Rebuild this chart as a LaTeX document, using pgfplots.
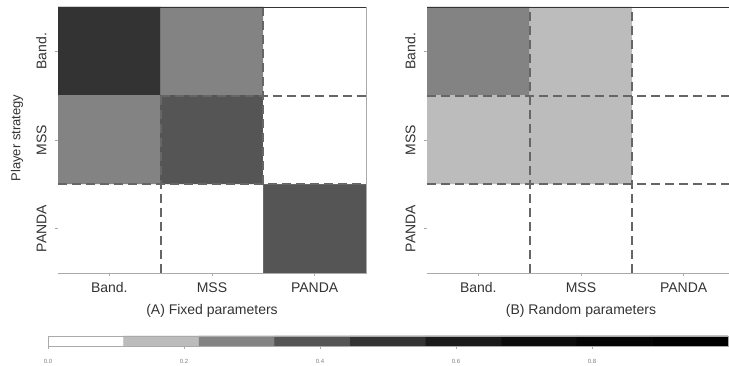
\documentclass[border=0pt]{standalone}
\usepackage{fontspec}
\setmainfont{Liberation Sans}
\usepackage{pgfplots}
\pgfplotsset{compat=1.18}
\definecolor{txt}{HTML}{333333}
\definecolor{frame}{HTML}{AAAAAA}
\definecolor{dashcol}{HTML}{666666}
\pgfplotsset{
  colormap={gray9}{rgb255=(255,255,255) rgb255=(188,188,188) rgb255=(131,131,131) rgb255=(85,85,85) rgb255=(51,51,51) rgb255=(26,26,26) rgb255=(12,12,12) rgb255=(4,4,4) rgb255=(0,0,0)},
  heat/.style={
    scale only axis, width=308pt, height=266pt,
    xmin=0.5, xmax=3.5, ymin=0.5, ymax=3.5,
    colormap name=gray9, colormap access=piecewise constant,
    point meta min=0, point meta max=1,
    xtick={1,2,3}, xticklabels={Band.,MSS,PANDA},
    ytick={1,2,3}, yticklabels={PANDA,MSS,Band.},
    xtick pos=left, ytick pos=left, tick align=outside,
    major tick length=3pt,
    tick style={color=frame, line width=0.5pt},
    axis line style={draw=frame, line width=0.6pt},
    ticklabel style={font=\fontsize{14}{16}\selectfont, text=txt},
    yticklabel style={rotate=90, anchor=south, yshift=5pt},
    xticklabel style={yshift=-3pt},
    xlabel style={font=\fontsize{14}{16}\selectfont, text=txt, yshift=-5pt},
    ylabel style={font=\fontsize{13}{15}\selectfont, text=txt},
    clip=true,
  },
  dsh/.style={color=dashcol, line width=2pt, dash pattern=on 9pt off 5pt, forget plot},
}
\begin{document}
\begin{tikzpicture}
% ---------- (A) ----------
\begin{axis}[heat, at={(58pt,93pt)}, anchor=south west,
  xlabel={(A) Fixed parameters}, ylabel={Player strategy},
  ylabel style={at={(axis description cs:0,0.5)}, anchor=center, yshift=41pt, xshift=2pt}]
\addplot[matrix plot*, mesh/cols=3, point meta=explicit] table[meta=c] {
x y c
1 3 0.50
2 3 0.28
3 3 0.00
1 2 0.28
2 2 0.39
3 2 0.00
1 1 0.00
2 1 0.00
3 1 0.39
};
\addplot[dsh] coordinates {(1.5,0.5) (1.5,2.5)};
\addplot[dsh] coordinates {(2.5,1.5) (2.5,3.5)};
\addplot[dsh] coordinates {(0.5,1.5) (3.5,1.5)};
\addplot[dsh] coordinates {(1.5,2.5) (3.5,2.5)};
\draw[color=txt, line width=0.7pt] (rel axis cs:0,1) -- (rel axis cs:1,1);
\end{axis}
% ---------- (B) ----------
\begin{axis}[heat, at={(427pt,93pt)}, anchor=south west,
  xlabel={(B) Random parameters}]
\addplot[matrix plot*, mesh/cols=3, point meta=explicit] table[meta=c] {
x y c
1 3 0.28
2 3 0.17
3 3 0.00
1 2 0.17
2 2 0.17
3 2 0.00
1 1 0.00
2 1 0.00
3 1 0.00
};
\addplot[dsh] coordinates {(1.5,0.5) (1.5,3.5)};
\addplot[dsh] coordinates {(2.5,0.5) (2.5,3.5)};
\addplot[dsh] coordinates {(0.5,1.5) (3.5,1.5)};
\addplot[dsh] coordinates {(0.5,2.5) (3.5,2.5)};
\draw[color=txt, line width=0.7pt] (rel axis cs:0,1) -- (rel axis cs:1,1);
\end{axis}
% ---------- colour bar ----------
\begin{axis}[scale only axis, width=680pt, height=10pt,
  at={(48pt,20pt)}, anchor=south west, axis on top,
  xmin=0, xmax=1, ymin=0, ymax=1,
  colormap name=gray9, colormap access=piecewise constant,
  point meta min=0, point meta max=1,
  ytick=\empty, xtick={0,0.2,0.4,0.6,0.8},
  xtick pos=left, tick align=outside, major tick length=3pt,
  tick style={color=frame, line width=0.5pt},
  axis line style={draw=frame, line width=0.8pt},
  /pgf/number format/assume math mode=true,
  /pgf/number format/.cd, fixed, fixed zerofill, precision=1, /pgfplots/.cd,
  xticklabel style={font=\fontsize{6}{7}\selectfont, text=gray, yshift=-7pt}]
\addplot[matrix plot*, mesh/cols=9, point meta=explicit] table[meta=c] {
x y c
0.0556 0.25 0.0556
0.1667 0.25 0.1667
0.2778 0.25 0.2778
0.3889 0.25 0.3889
0.5000 0.25 0.5000
0.6111 0.25 0.6111
0.7222 0.25 0.7222
0.8333 0.25 0.8333
0.9444 0.25 0.9444
0.0556 0.75 0.0556
0.1667 0.75 0.1667
0.2778 0.75 0.2778
0.3889 0.75 0.3889
0.5000 0.75 0.5000
0.6111 0.75 0.6111
0.7222 0.75 0.7222
0.8333 0.75 0.8333
0.9444 0.75 0.9444
};
\end{axis}
\pgfresetboundingbox
\path[use as bounding box] (0,0) rectangle (729pt,366pt);
\end{tikzpicture}
\end{document}
